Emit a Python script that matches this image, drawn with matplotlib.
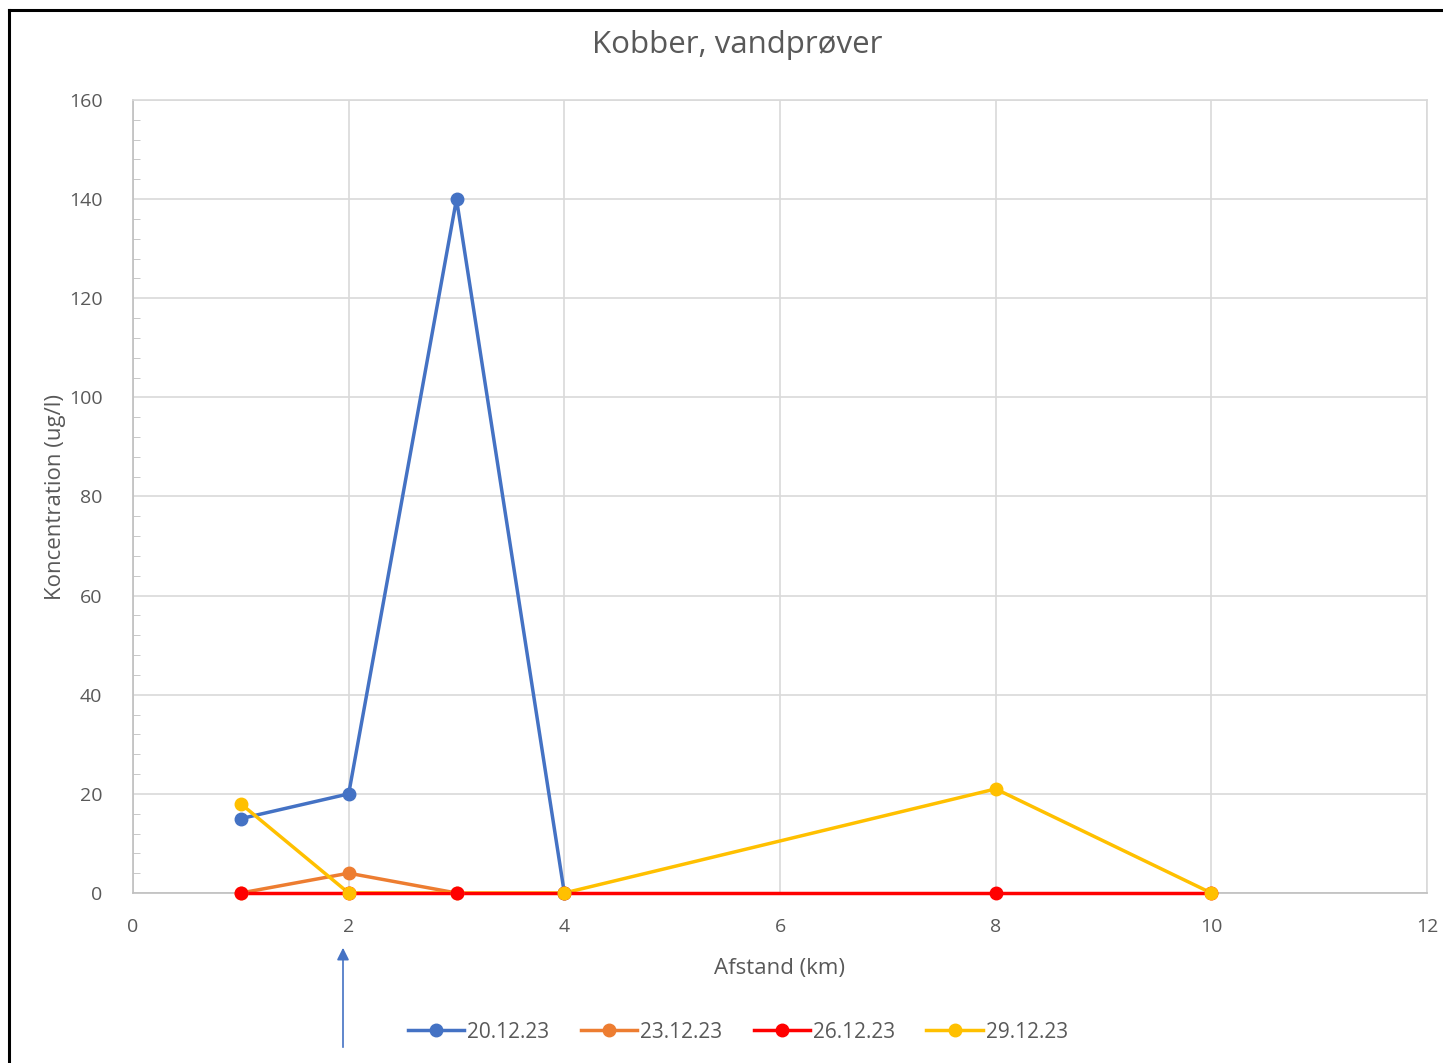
import matplotlib.pyplot as plt
from matplotlib.patches import FancyArrowPatch
from matplotlib.lines import Line2D
from matplotlib.ticker import MultipleLocator

plt.rcParams['font.family'] = ['Open Sans', 'DejaVu Sans']

# data
x_2012 = [1, 2, 3, 4]
y_2012 = [15, 20, 140, 0]
x_2312 = [1, 2, 3]
y_2312 = [0, 4, 0]
x_2612 = [1, 2, 3, 4, 8, 10]
y_2612 = [0, 0, 0, 0, 0, 0]
x_2912 = [1, 2, 4, 8, 10]
y_2912 = [18, 0, 0, 21, 0]
labels = ['20.12.23', '23.12.23', '26.12.23', '29.12.23']
colors = ['#4472C4', '#ED7D31', '#FF0000', '#FFC000']
line_z = [4, 5, 7, 6]  # red line sits on top of the yellow one along 0

txt = '#595959'
grid = '#D9D9D9'

fig = plt.figure(figsize=(14.43, 10.63), dpi=100)
ax = fig.add_axes([133/1443, 1-893/1063, (1427-133)/1443, (893-100)/1063])

series = [(x_2012, y_2012), (x_2312, y_2312), (x_2612, y_2612), (x_2912, y_2912)]
# lines first, then all markers on top
for (xs, ys), c, z in zip(series, colors, line_z):
    ax.plot(xs, ys, color=c, lw=2.5, zorder=z, clip_on=False)
for i, ((xs, ys), c) in enumerate(zip(series, colors)):
    ax.plot(xs, ys, ls='none', marker='o', ms=9, color=c, zorder=10+i, clip_on=False)

ax.set_xlim(0, 12)
ax.set_ylim(0, 160)
ax.xaxis.set_major_locator(MultipleLocator(2))
ax.yaxis.set_major_locator(MultipleLocator(20))
ax.yaxis.set_minor_locator(MultipleLocator(4))
ax.grid(True, color=grid, lw=1.2)
ax.set_axisbelow(True)
for s in ax.spines.values():
    s.set_color(grid)
    s.set_linewidth(1.2)
ax.spines['left'].set_color('#BFBFBF')
ax.spines['bottom'].set_color('#BFBFBF')
ax.tick_params(axis='x', length=0, pad=18, labelsize=14, labelcolor=txt)
ax.tick_params(axis='y', which='major', length=0, pad=22, labelsize=14, labelcolor=txt)
ax.tick_params(axis='y', which='minor', direction='in', length=5, color='#BFBFBF')

ax.set_xlabel('Afstand (km)', fontsize=16, color=txt, labelpad=16)
ax.set_ylabel('Koncentration (ug/l)', fontsize=16, color=txt, labelpad=2)
fig.text(0.511, 1-45/1063, 'Kobber, vandprøver', ha='center', va='center',
         fontsize=22.5, color=txt)

handles = [Line2D([], [], color=c, lw=2.5, marker='o', ms=9) for c in colors]
fig.legend(handles, labels, loc='center', bbox_to_anchor=(738/1443, 1-1032/1063),
           ncol=4, frameon=False, fontsize=15, labelcolor=txt,
           handlelength=2.7, handletextpad=0.15, columnspacing=1.5)

# arrow under x=2
arr = FancyArrowPatch((343/1443, 1-1050/1063), (343/1443, 1-945/1063),
                      transform=fig.transFigure, arrowstyle='-|>', mutation_scale=18,
                      color='#4472C4', lw=1.2)
fig.add_artist(arr)

# black frame (left and top edges visible)
fig.add_artist(Line2D([9/1443, 9/1443], [0, 1-10/1063], transform=fig.transFigure,
                      color='black', lw=2.2))
fig.add_artist(Line2D([9/1443, 1], [1-10/1063, 1-10/1063], transform=fig.transFigure,
                      color='black', lw=2.2))

fig.savefig('out.png', dpi=100)
